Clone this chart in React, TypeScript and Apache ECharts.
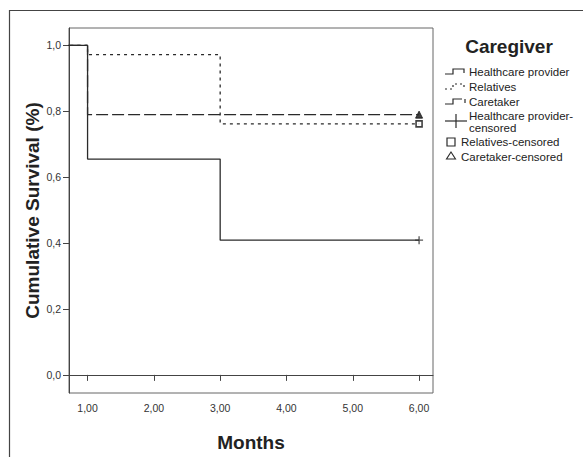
import React, { useEffect, useRef } from "react";
import * as echarts from "echarts";

// Kaplan-Meier step data (time in months, cumulative survival)
const hpTimes = [0, 1, 3, 6];
const hpSurvival = [1.0, 0.655, 0.409, 0.409];
const relTimes = [0, 1, 3, 6];
const relSurvival = [1.0, 0.972, 0.762, 0.762];
const careTimes = [0, 1, 6];
const careSurvival = [1.0, 0.79, 0.79];

const censorTime = 6;
const hpCensored = [0.409];
const relCensored = [0.762];
const careCensored = [0.79];

const xTicks = [1, 2, 3, 4, 5, 6];
const yTicks = [0, 0.2, 0.4, 0.6, 0.8, 1.0];

const legendLabels = [
  "Healthcare provider",
  "Relatives",
  "Caretaker",
  "Healthcare provider-\ncensored",
  "Relatives-censored",
  "Caretaker-censored",
];

const FONT = "Liberation Sans, Arial, sans-serif";

function zip(t: number[], s: number[]) {
  return t.map((v, i) => [v, s[i]]);
}

export default function App() {
  const ref = useRef<HTMLDivElement>(null);
  useEffect(() => {
    if (!ref.current) return;
    const chart = echarts.init(ref.current, undefined, { renderer: "svg" });
    const lineColor = "#2a2a2a";
    const txt = "#222";
    const option: any = {
      animation: false,
      backgroundColor: "#fff",
      grid: {
        left: 69,
        top: 28,
        right: 150,
        bottom: 58,
        show: true,
        borderColor: "#666",
        borderWidth: 1,
      },
      xAxis: {
        type: "value",
        min: 0.72,
        max: 6.21,
        splitLine: { show: false },
        axisLine: { show: true, lineStyle: { color: "#444", width: 1 } },
        axisTick: { show: true, length: 6, customValues: xTicks, lineStyle: { color: "#444" } },
        axisLabel: {
          customValues: xTicks,
          margin: 9,
          fontSize: 10.5,
          color: "#333",
          fontFamily: FONT,
          formatter: (v: number) => v.toFixed(2).replace(".", ","),
        },
        name: "Months",
        nameLocation: "middle",
        nameGap: 40,
        nameMoveOverlap: false,
        nameTextStyle: { fontSize: 19, fontWeight: "bold", color: txt, fontFamily: FONT },
      },
      yAxis: {
        type: "value",
        min: -0.055,
        max: 1.053,
        splitLine: { show: false },
        axisLine: { show: true, lineStyle: { color: "#444", width: 1 } },
        axisTick: { show: true, length: 6, customValues: yTicks, lineStyle: { color: "#444" } },
        axisLabel: {
          customValues: yTicks,
          margin: 8,
          fontSize: 10.5,
          color: "#333",
          fontFamily: FONT,
          formatter: (v: number) => v.toFixed(1).replace(".", ","),
        },
        name: "Cumulative Survival (%)",
        nameLocation: "middle",
        nameGap: 27,
        nameMoveOverlap: false,
        nameTextStyle: { fontSize: 19, fontWeight: "bold", color: txt, fontFamily: FONT },
      },
      series: [
        {
          type: "line",
          step: "end",
          data: zip(hpTimes, hpSurvival),
          symbol: "none",
          lineStyle: { color: lineColor, width: 1.3 },
          clip: true,
        },
        {
          type: "line",
          step: "end",
          data: zip(relTimes, relSurvival),
          symbol: "none",
          lineStyle: { color: lineColor, width: 1.3, type: [3, 4] },
          clip: true,
        },
        {
          type: "line",
          step: "end",
          data: zip(careTimes, careSurvival),
          symbol: "none",
          lineStyle: { color: lineColor, width: 1.3, type: [12, 4] },
          clip: true,
        },
        {
          type: "scatter",
          data: hpCensored.map((s) => [censorTime, s]),
          symbol: "path://M0,5L10,5M5,0L5,10",
          symbolSize: 8,
          itemStyle: { color: "none", borderColor: lineColor, borderWidth: 1.3 },
        },
        {
          type: "scatter",
          data: relCensored.map((s) => [censorTime, s]),
          symbol: "rect",
          symbolSize: 6,
          itemStyle: { color: "#fff", borderColor: "#111", borderWidth: 1.6 },
        },
        {
          type: "scatter",
          data: careCensored.map((s) => [censorTime, s]),
          symbol: "triangle",
          symbolSize: 7,
          itemStyle: { color: "#111", borderColor: "#111", borderWidth: 1 },
        },
      ],
      graphic: [
        {
          type: "rect",
          shape: { x: 9.5, y: 10.5, width: 620, height: 500 },
          style: { fill: "none", stroke: "#444", lineWidth: 1.2 },
          silent: true,
        },
        {
          type: "text",
          x: 509,
          y: 46,
          style: {
            text: "Caregiver",
            font: `bold 19px ${FONT}`,
            fill: txt,
            textAlign: "center",
            textVerticalAlign: "middle",
          },
        },
        // legend symbols
        {
          type: "polyline",
          shape: { points: [[445, 74], [453, 74], [453, 69], [464, 69], [464, 73]] },
          style: { stroke: lineColor, lineWidth: 1.2, fill: "none" },
        },
        {
          type: "polyline",
          shape: { points: [[445, 89], [453, 89], [453, 84], [464, 84], [464, 88]] },
          style: { stroke: lineColor, lineWidth: 1.2, fill: "none", lineDash: [2, 3] },
        },
        {
          type: "polyline",
          shape: { points: [[445, 104], [453, 104], [453, 99], [462, 99]] },
          style: { stroke: lineColor, lineWidth: 1.2, fill: "none" },
        },
        {
          type: "line",
          shape: { x1: 465, y1: 99, x2: 465, y2: 103 },
          style: { stroke: lineColor, lineWidth: 1.2 },
        },
        {
          type: "line",
          shape: { x1: 445, y1: 121, x2: 467, y2: 121 },
          style: { stroke: lineColor, lineWidth: 1.2 },
        },
        {
          type: "line",
          shape: { x1: 456, y1: 114, x2: 456, y2: 128 },
          style: { stroke: lineColor, lineWidth: 1.2 },
        },
        {
          type: "rect",
          shape: { x: 447, y: 138, width: 8, height: 8 },
          style: { stroke: lineColor, lineWidth: 1.2, fill: "#fff" },
        },
        {
          type: "polygon",
          shape: { points: [[451, 152], [455.5, 159], [446.5, 159]] },
          style: { stroke: lineColor, lineWidth: 1.1, fill: "#fff" },
        },
        ...[
          { i: 0, x: 469, y: 72 },
          { i: 1, x: 469, y: 87 },
          { i: 2, x: 469, y: 102 },
          { i: 3, x: 469, y: 122 },
          { i: 4, x: 461, y: 142 },
          { i: 5, x: 461, y: 157 },
        ].map((p) => ({
          type: "text",
          x: p.x,
          y: p.y,
          style: {
            text: legendLabels[p.i],
            font: `11.5px ${FONT}`,
            fill: txt,
            textAlign: "left",
            textVerticalAlign: "middle",
            lineHeight: 12,
          },
        })),
      ],
    };
    chart.setOption(option);
    return () => chart.dispose();
  }, []);
  return (
    <div
      ref={ref}
      style={{ position: "fixed", left: 0, top: 0, width: 583, height: 457, background: "#fff" }}
    />
  );
}
